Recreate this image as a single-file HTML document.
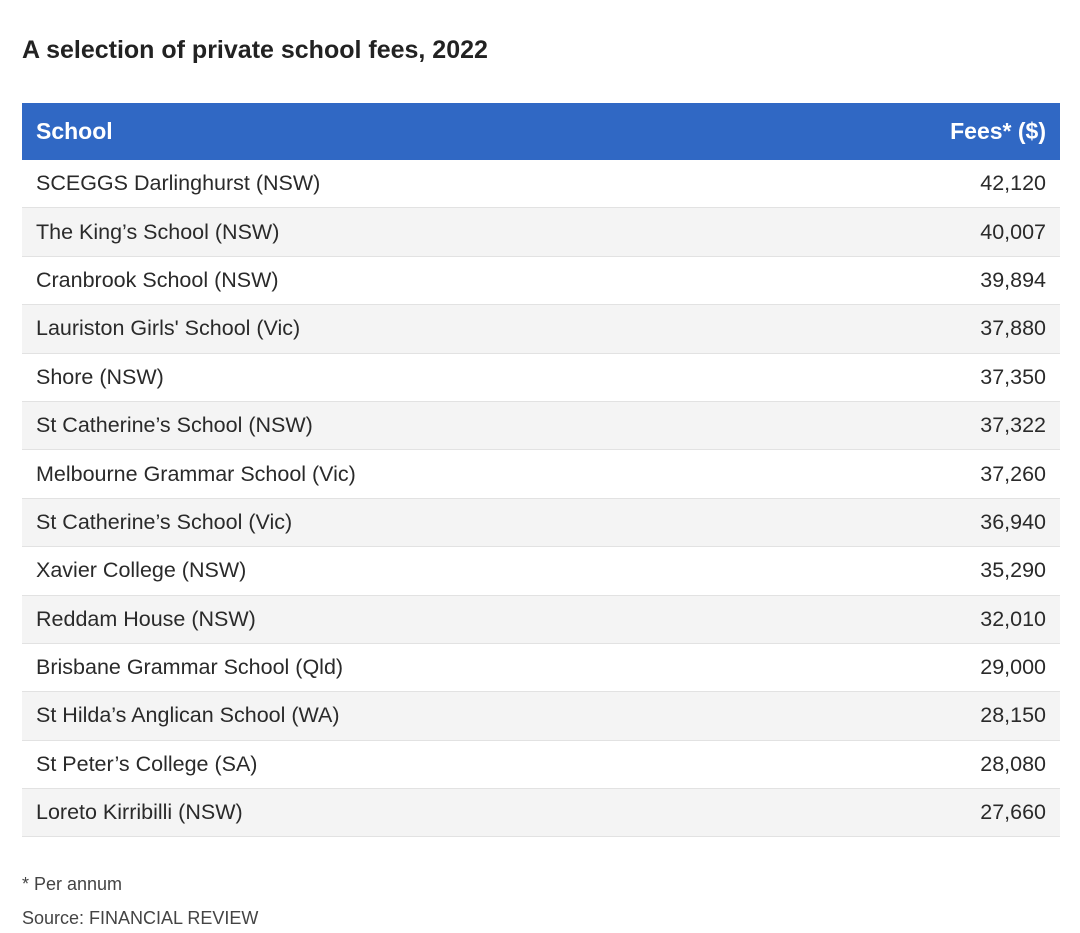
<!DOCTYPE html>
<html><head><meta charset="utf-8"><style>
body{margin:0;width:1080px;height:933px;background:#fff;font-family:"Liberation Sans",sans-serif;color:#222;overflow:hidden}
h1{position:absolute;left:22px;top:36px;margin:0;font-size:25px;font-weight:bold;color:#222}
table{position:absolute;left:22px;top:103px;width:1038px;border-collapse:collapse;font-size:21.5px}
th{background:#3068c4;color:#fff;height:57px;padding:0 14px;text-align:left;font-size:23px}
td{height:47.4px;padding:0 14px;border-bottom:1px solid #e2e2e2;color:#2a2a2a}
tr:nth-child(even) td{background:#f4f4f4}
.r{text-align:right}
.f{position:absolute;left:22px;font-size:18px;color:#444}
</style></head><body>
<h1>A selection of private school fees, 2022</h1>
<table>
<thead><tr><th>School</th><th class="r">Fees* ($)</th></tr></thead>
<tbody id="tb"></tbody></table>
<div class="f" style="top:874px">* Per annum</div>
<div class="f" style="top:908px">Source: FINANCIAL REVIEW</div>
<script>
const schools=["SCEGGS Darlinghurst (NSW)","The King’s School (NSW)","Cranbrook School (NSW)","Lauriston Girls' School (Vic)","Shore (NSW)","St Catherine’s School (NSW)","Melbourne Grammar School (Vic)","St Catherine’s School (Vic)","Xavier College (NSW)","Reddam House (NSW)","Brisbane Grammar School (Qld)","St Hilda’s Anglican School (WA)","St Peter’s College (SA)","Loreto Kirribilli (NSW)"];
const fees=[42120,40007,39894,37880,37350,37322,37260,36940,35290,32010,29000,28150,28080,27660];
const tb=document.getElementById('tb');
schools.forEach((s,i)=>{
const tr=document.createElement('tr');


const a=document.createElement('td');a.textContent=s;


const b=document.createElement('td');b.className='r';b.textContent=fees[i].toLocaleString('en-US');


tr.appendChild(a);tr.appendChild(b);tb.appendChild(tr);
});
</script>
</body></html>
